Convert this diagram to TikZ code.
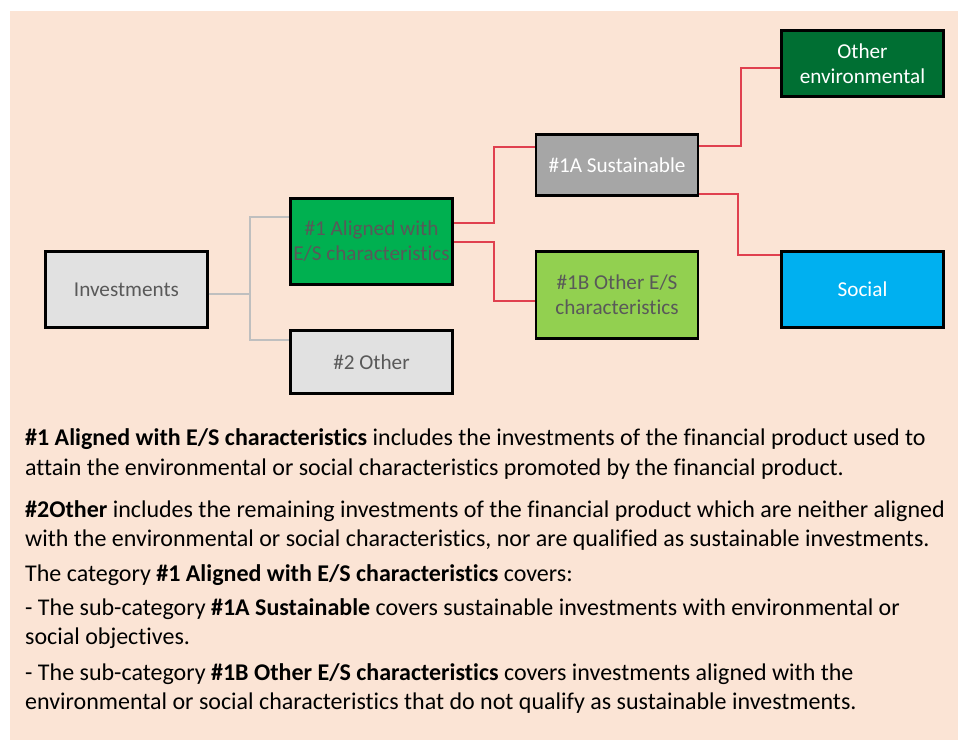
\documentclass[tikz,border=0pt]{standalone}
\usepackage{fontspec}
\setmainfont{Carlito}[Ligatures=NoCommon]
\usetikzlibrary{positioning}
\usetikzlibrary{calc}

\definecolor{peach}{HTML}{FBE4D5}
\definecolor{boxgray}{HTML}{E1E1E1}
\definecolor{susgray}{HTML}{A6A6A6}
\definecolor{algreen}{HTML}{00B050}
\definecolor{obsgreen}{HTML}{92D050}
\definecolor{envgreen}{HTML}{006F33}
\definecolor{socblue}{HTML}{00B0F0}
\definecolor{txtgray}{HTML}{595959}
\definecolor{linkred}{HTML}{E0404F}
\definecolor{linkgray}{HTML}{BFBFBF}

\tikzset{
  cat/.style={draw=black, line width=2.6pt, minimum width=162pt, inner sep=0pt,
              align=center, font=\fontsize{21.2}{25}\selectfont},
  redlink/.style={linkred, line width=2pt},
  graylink/.style={linkgray, line width=2pt},
  para/.style={anchor=base west, inner sep=0pt, font=\fontsize{24}{29}\selectfont}
}

\begin{document}
\begin{tikzpicture}[x=1pt,y=-1pt]

	\useasboundingbox (0,0) rectangle (958,740);
	\fill[peach] (10,11) rectangle (958,740);

	\node[cat, fill=boxgray, text=txtgray, minimum height=76pt] (inv) at (126.5,289.5) {Investments};
	\node[cat, fill=algreen, text=txtgray, minimum height=86pt] (al) at (371.5,241.5) {\#1 Aligned with\\E/S characteristics};
	\node[cat, fill=boxgray, text=txtgray, minimum height=63pt] (oth) at (371.5,362) {\#2 Other};
	\node[cat, fill=susgray, text=white, minimum height=61pt] (sus) at (617,165) {\#1A Sustainable};
	\node[cat, fill=obsgreen, text=txtgray, minimum height=87pt] (obs) at (617,295) {\#1B Other E/S\\characteristics};
	\node[cat, fill=envgreen, text=white, minimum height=66pt] (env) at (862.5,63.5) {Other\\environmental};
	\node[cat, fill=socblue, text=white, minimum height=76pt] (soc) at (862.5,289.5) {Social};

	\draw[graylink] ([yshift=-4pt]inv.east) -- ++(41,0) |- ([yshift=25pt]al.west);
	\draw[graylink] ([yshift=-4pt]inv.east) -- ++(41,0) |- ([yshift=22pt]oth.west);

	\draw[redlink] ([yshift=19pt]al.east) -- ++(40,0) |- ([yshift=18pt]sus.west);
	\draw[redlink] (al.east) -- ++(40,0) |- ([yshift=-6pt]obs.west);
	\draw[redlink] ([yshift=19pt]sus.east) -- ++(42,0) |- ([yshift=-4pt]env.west);
	\draw[redlink] ([yshift=-29pt]sus.east) -- ++(39,0) |- ([yshift=35pt]soc.west);

	\foreach \n/\y/\txt in {
		1/445/{\textbf{\#1 Aligned with E/S characteristics} includes the investments of the financial product used to},
		2/475/{attain the environmental or social characteristics promoted by the financial product.},
		3/517/{\textbf{\#2Other} includes the remaining investments of the financial product which are neither aligned},
		4/546/{with the environmental or social characteristics, nor are qualified as sustainable investments.},
		5/581/{The category \textbf{\#1 Aligned with E/S characteristics} covers:},
		6/615/{- The sub-category \textbf{\#1A Sustainable} covers sustainable investments with environmental or},
		7/644/{social objectives.},
		8/680/{- The sub-category \textbf{\#1B Other E/S characteristics} covers investments aligned with the},
		9/709/{environmental or social characteristics that do not qualify as sustainable investments.}} {
		\node[para] (l\n) at (25,\y) {\txt};
	}

\end{tikzpicture}
\end{document}
